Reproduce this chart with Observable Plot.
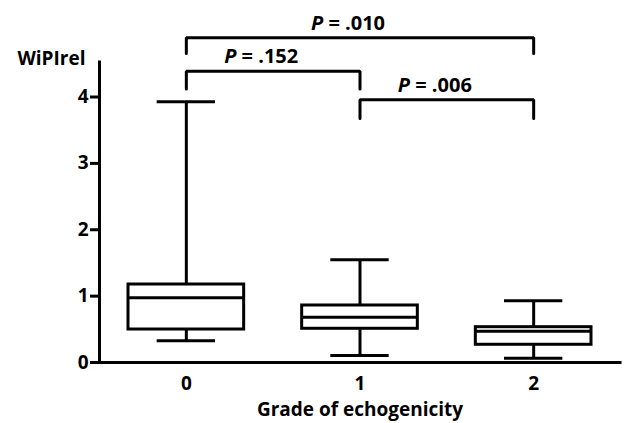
<!DOCTYPE html>
<html>
<head>
<meta charset="utf-8">
<script src="https://cdn.jsdelivr.net/npm/d3@7"></script>
<script src="https://cdn.jsdelivr.net/npm/@observablehq/plot@0.6"></script>
<style>
  html, body { margin: 0; padding: 0; background: #fff; }
  #chart svg { display: block; }
</style>
</head>
<body>
<div id="chart"></div>
<script>
// Categories and box statistics
const groups = [0, 1, 2];
const groupLabels = ["0", "1", "2"];
const whiskerLow = [0.327, 0.105, 0.065];
const q1 = [0.497, 0.508, 0.267];
const median = [0.975, 0.683, 0.472];
const q3 = [1.175, 0.859, 0.532];
const whiskerHigh = [3.93, 1.547, 0.93];

// Significance brackets
const bracketFrom = [0, 0, 1];
const bracketTo = [2, 1, 2];
const bracketY = [4.892, 4.389, 3.958];
const bracketEnd = [4.655, 4.12, 3.676];
const bracketLabels = ["P = .010", "P = .152", "P = .006"];

const yTicks = [0, 1, 2, 3, 4];
const yTitle = "WiPIrel";
const xTitle = "Grade of echogenicity";

const boxes = groups.map((g, i) => ({
  g, lo: whiskerLow[i], q1: q1[i], med: median[i], q3: q3[i], hi: whiskerHigh[i]
}));
const bracketPts = [];
bracketFrom.forEach((f, i) => {
  const t = bracketTo[i];
  bracketPts.push({k: i, x: f, y: bracketEnd[i]});
  bracketPts.push({k: i, x: f, y: bracketY[i]});
  bracketPts.push({k: i, x: t, y: bracketY[i]});
  bracketPts.push({k: i, x: t, y: bracketEnd[i]});
});
const bracketText = bracketLabels.map((l, i) => ({
  label: l, x: (bracketFrom[i] + bracketTo[i]) / 2, y: bracketY[i]
}));

const BOX = 0.333, CAP = 0.168, SW = 3;
const font = "'Open Sans', Lato, sans-serif";
const FS = 19;

const chart = Plot.plot({
  width: 627,
  height: 423,
  marginLeft: 99,
  marginRight: 7,
  marginTop: 62,
  marginBottom: 61,
  style: {fontFamily: font, fontSize: FS + "px", fontWeight: "bold", color: "#000", background: "#fff"},
  x: {domain: [-0.5, 2.5]},
  y: {domain: [0, 4.52]},
  marks: [
    // whiskers
    Plot.ruleX(boxes, {x: "g", y1: "q3", y2: "hi", stroke: "#000", strokeWidth: SW}),
    Plot.ruleX(boxes, {x: "g", y1: "lo", y2: "q1", stroke: "#000", strokeWidth: SW}),
    Plot.ruleY(boxes, {y: "hi", x1: d => d.g - CAP, x2: d => d.g + CAP, stroke: "#000", strokeWidth: SW}),
    Plot.ruleY(boxes, {y: "lo", x1: d => d.g - CAP, x2: d => d.g + CAP, stroke: "#000", strokeWidth: SW}),
    // boxes
    Plot.rect(boxes, {x1: d => d.g - BOX, x2: d => d.g + BOX, y1: "q1", y2: "q3", fill: "#fff", stroke: "#000", strokeWidth: SW}),
    Plot.ruleY(boxes, {y: "med", x1: d => d.g - BOX, x2: d => d.g + BOX, stroke: "#000", strokeWidth: SW}),
    // axes
    Plot.ruleX([-0.5], {y1: 0, y2: 4.52, stroke: "#000", strokeWidth: SW, strokeLinecap: "square"}),
    Plot.ruleY([0], {x1: -0.5, x2: 2.5, stroke: "#000", strokeWidth: SW, strokeLinecap: "square"}),
    Plot.axisY({ticks: yTicks, tickFormat: "d", tickSize: 9, tickPadding: 2, strokeWidth: SW, label: null, fontSize: FS}),
    Plot.axisX({ticks: groups, tickFormat: (d, i) => groupLabels[i], tickSize: 0, tickPadding: 14, label: null, fontSize: FS}),
    Plot.text([yTitle], {frameAnchor: "top-left", text: d => d, textAnchor: "end", lineAnchor: "bottom", dx: -14, dy: 2, fontSize: FS}),
    Plot.text([xTitle], {x: () => 1, frameAnchor: "bottom", text: d => d, lineAnchor: "bottom", dy: 53, fontSize: FS}),
    // brackets
    Plot.line(bracketPts, {x: "x", y: "y", z: "k", stroke: "#000", strokeWidth: SW, strokeLinejoin: "miter", strokeLinecap: "round"}),
    Plot.text(bracketText, {x: "x", y: "y", text: "label", lineAnchor: "bottom", dx: -12, dy: -8, fontSize: 20, className: "plabel"})
  ]
});

// Italicise the leading "P" of each significance label
d3.select(chart).selectAll(".plabel text").each(function () {
  const t = this.textContent;
  const i = t.indexOf(" ");
  this.textContent = "";
  const sel = d3.select(this);
  sel.append("tspan").attr("font-style", "italic").text(t.slice(0, i));
  sel.append("tspan").text(t.slice(i));
});

document.getElementById("chart").appendChild(chart);
</script>
</body>
</html>
